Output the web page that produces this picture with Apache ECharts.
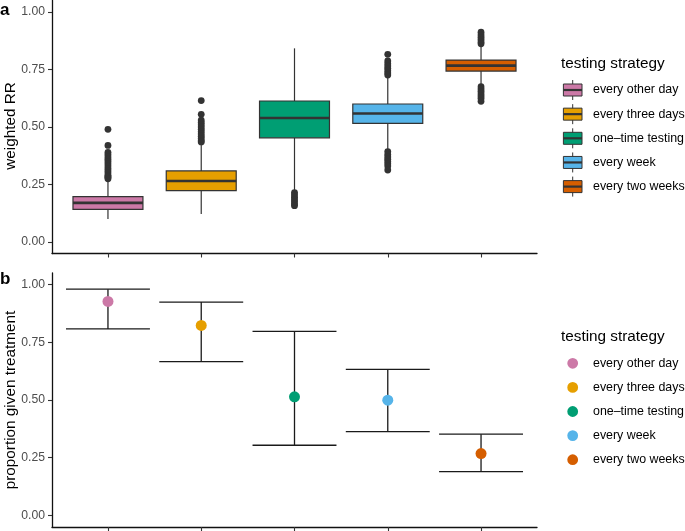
<!DOCTYPE html>
<html>
<head>
<meta charset="utf-8">
<script src="https://cdn.jsdelivr.net/npm/echarts@6/dist/echarts.min.js"></script>
<style>html,body{margin:0;padding:0;background:#fff}#c{width:685px;height:531px}</style>
</head>
<body>
<div id="c"></div>
<script>
// ---- data ----
const strategies = ['every other day', 'every three days', 'one\u2013time testing', 'every week', 'every two weeks'];
const colors = ['#CC79A7', '#E69F00', '#009E73', '#56B4E9', '#D55E00'];
// boxplot stats: [lower whisker, Q1, median, Q3, upper whisker]
const boxStats = [
  [0.100, 0.142, 0.170, 0.197, 0.270],
  [0.122, 0.223, 0.265, 0.309, 0.430],
  [0.222, 0.453, 0.539, 0.613, 0.842],
  [0.400, 0.516, 0.559, 0.600, 0.720],
  [0.680, 0.743, 0.767, 0.791, 0.855]
];
const outliers = [
  [0.49, 0.42, 0.39, 0.38, 0.37, 0.36, 0.35, 0.34, 0.33, 0.32, 0.31, 0.30, 0.29, 0.285, 0.28, 0.275],
  [0.615, 0.555, 0.53, 0.52, 0.51, 0.50, 0.49, 0.48, 0.47, 0.46, 0.45, 0.44, 0.435],
  [0.215, 0.205, 0.195, 0.185, 0.175, 0.165, 0.158],
  [0.816, 0.787, 0.775, 0.765, 0.755, 0.745, 0.735, 0.726, 0.393, 0.38, 0.37, 0.36, 0.35, 0.34, 0.33, 0.313],
  [0.912, 0.90, 0.89, 0.88, 0.87, 0.862, 0.675, 0.665, 0.655, 0.645, 0.635, 0.625, 0.612]
];
const propEstimate = [0.927, 0.823, 0.514, 0.499, 0.268];
const propLower = [0.808, 0.666, 0.304, 0.363, 0.190];
const propUpper = [0.980, 0.924, 0.797, 0.633, 0.352];
const yTicks = [0, 0.25, 0.5, 0.75, 1.0];
const xPositions = [1, 2, 3, 4, 5];
const axisTitles = ['weighted RR', 'proportion given treatment'];

// ---- chart ----
const chart = echarts.init(document.getElementById('c'), null, {renderer: 'canvas'});
const FONT = '"Liberation Sans", Arial, Helvetica, sans-serif';
const dark = '#333333';

function xAxis(gi) {
  return {
    type: 'value', gridIndex: gi, min: 0.4, max: 5.6,
    splitLine: {show: false},
    axisLine: {show: true, onZero: false, lineStyle: {color: '#111', width: 1.3}},
    axisTick: {show: true, customValues: xPositions, length: 4, lineStyle: {color: dark, width: 1.1}},
    axisLabel: {show: false}
  };
}
function yAxis(gi) {
  return {
    type: 'value', gridIndex: gi, min: -0.05, max: 1.05,
    splitLine: {show: false},
    axisLine: {show: true, onZero: false, lineStyle: {color: '#111', width: 1.3}},
    axisTick: {show: true, customValues: yTicks, length: 4, lineStyle: {color: dark, width: 1.1}},
    axisLabel: {customValues: yTicks, formatter: v => v.toFixed(2), color: '#4D4D4D', fontSize: 12.2, fontFamily: FONT, margin: 7}
  };
}

const boxData = boxStats.map((s, i) => [xPositions[i]].concat(s));
const outlierData = [];
outliers.forEach((arr, i) => arr.forEach(v => outlierData.push([xPositions[i], v])));
const errData = xPositions.map((x, i) => [x, propLower[i], propUpper[i]]);
const pointData = xPositions.map((x, i) => ({value: [x, propEstimate[i]], itemStyle: {color: colors[i], opacity: 1}}));

// legend & title graphics
const graphics = [];
graphics.push({type: 'text', left: 0, top: 2, style: {text: 'a', font: 'bold 17px ' + FONT, fill: '#000'}});
graphics.push({type: 'text', left: 0, top: 271, style: {text: 'b', font: 'bold 17px ' + FONT, fill: '#000'}});
graphics.push({type: 'text', x: 11, y: 126, rotation: Math.PI / 2, style: {text: axisTitles[0], font: '15.3px ' + FONT, fill: '#000', align: 'center', verticalAlign: 'middle'}});
graphics.push({type: 'text', x: 11, y: 400, rotation: Math.PI / 2, style: {text: axisTitles[1], font: '15.3px ' + FONT, fill: '#000', align: 'center', verticalAlign: 'middle'}});
function legendTitle(y) {
  graphics.push({type: 'text', x: 561, y: y, style: {text: 'testing strategy', font: '15.3px ' + FONT, fill: '#000', verticalAlign: 'middle'}});
}
legendTitle(64);
legendTitle(337);
strategies.forEach((s, i) => {
  const y1 = 90 + i * 24.15;
  const cx = 572.7;
  graphics.push({type: 'line', shape: {x1: cx, y1: y1 - 10, x2: cx, y2: y1 + 10}, style: {stroke: dark, lineWidth: 1}});
  graphics.push({type: 'rect', shape: {x: cx - 9.3, y: y1 - 6, width: 18.6, height: 12}, style: {fill: colors[i], stroke: dark, lineWidth: 1}});
  graphics.push({type: 'line', shape: {x1: cx - 9.3, y1: y1, x2: cx + 9.3, y2: y1}, style: {stroke: dark, lineWidth: 2.2}});
  graphics.push({type: 'text', x: 593, y: y1, style: {text: s, font: '12.4px ' + FONT, fill: '#000', verticalAlign: 'middle'}});
  const y2 = 363.3 + i * 24.1;
  graphics.push({type: 'circle', shape: {cx: cx, cy: y2, r: 5.4}, style: {fill: colors[i]}});
  graphics.push({type: 'text', x: 593, y: y2, style: {text: s, font: '12.4px ' + FONT, fill: '#000', verticalAlign: 'middle'}});
});

const option = {
  animation: false,
  backgroundColor: '#fff',
  textStyle: {fontFamily: FONT},
  grid: [
    {left: 52, top: 0.5, width: 485, height: 253, containLabel: false, outerBoundsMode: 'none'},
    {left: 52, top: 273, width: 485, height: 254, containLabel: false, outerBoundsMode: 'none'}
  ],
  xAxis: [xAxis(0), xAxis(1)],
  yAxis: [yAxis(0), yAxis(1)],
  graphic: graphics,
  series: [
    {
      type: 'custom', xAxisIndex: 0, yAxisIndex: 0, data: boxData,
      encode: {x: 0, y: [1, 2, 3, 4, 5]},
      renderItem: function (params, api) {
        const x = api.value(0);
        const i = params.dataIndex;
        const lo = api.coord([x, api.value(1)]);
        const q1 = api.coord([x, api.value(2)]);
        const md = api.coord([x, api.value(3)]);
        const q3 = api.coord([x, api.value(4)]);
        const hi = api.coord([x, api.value(5)]);
        const hw = api.size([0.75, 0])[0] / 2;
        return {
          type: 'group',
          children: [
            {type: 'line', shape: {x1: lo[0], y1: lo[1], x2: q1[0], y2: q1[1]}, style: {stroke: dark, lineWidth: 1.2}},
            {type: 'line', shape: {x1: q3[0], y1: q3[1], x2: hi[0], y2: hi[1]}, style: {stroke: dark, lineWidth: 1.2}},
            {type: 'rect', shape: {x: q3[0] - hw, y: q3[1], width: 2 * hw, height: q1[1] - q3[1]}, style: {fill: colors[i], stroke: dark, lineWidth: 1.2}},
            {type: 'line', shape: {x1: md[0] - hw, y1: md[1], x2: md[0] + hw, y2: md[1]}, style: {stroke: dark, lineWidth: 2.6}}
          ]
        };
      },
      z: 2
    },
    {
      type: 'scatter', xAxisIndex: 0, yAxisIndex: 0, data: outlierData,
      symbolSize: 6.8, itemStyle: {color: dark, opacity: 1}, z: 3
    },
    {
      type: 'custom', xAxisIndex: 1, yAxisIndex: 1, data: errData,
      encode: {x: 0, y: [1, 2]},
      renderItem: function (params, api) {
        const x = api.value(0);
        const lo = api.coord([x, api.value(1)]);
        const hi = api.coord([x, api.value(2)]);
        const hw = api.size([0.9, 0])[0] / 2;
        return {
          type: 'group',
          children: [
            {type: 'line', shape: {x1: lo[0], y1: lo[1], x2: hi[0], y2: hi[1]}, style: {stroke: '#1a1a1a', lineWidth: 1.3}},
            {type: 'line', shape: {x1: lo[0] - hw, y1: lo[1], x2: lo[0] + hw, y2: lo[1]}, style: {stroke: '#1a1a1a', lineWidth: 1.3}},
            {type: 'line', shape: {x1: hi[0] - hw, y1: hi[1], x2: hi[0] + hw, y2: hi[1]}, style: {stroke: '#1a1a1a', lineWidth: 1.3}}
          ]
        };
      },
      z: 2
    },
    {
      type: 'scatter', xAxisIndex: 1, yAxisIndex: 1, data: pointData,
      symbolSize: 11, z: 3
    }
  ]
};
chart.setOption(option);
</script>
</body>
</html>
